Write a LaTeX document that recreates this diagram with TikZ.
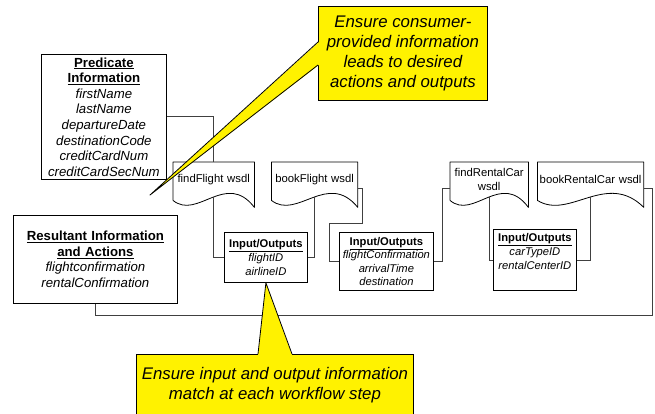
\documentclass[tikz,border=0pt]{standalone}
\usepackage{fontspec}
\setmainfont{Liberation Sans}
\usepackage{tikz}
\usetikzlibrary{%
  positioning,
  calc}
\tikzset{
  %% Information boxes (predicate / resultant)
  infobox/.style={
    rectangle, draw=black, line width=0.8pt, fill=white,
    align=center, anchor=north west, inner sep=1.5pt,
    font=\fontsize{13.2}{15.6}\selectfont},
  %% Input/Outputs boxes
  iobox/.style={
    rectangle, draw=black, line width=0.8pt, fill=white,
    align=center, anchor=north west, inner xsep=1.5pt, inner ysep=3pt,
    font=\fontsize{11.2}{13.6}\selectfont},
  %% wsdl documents with wavy bottom edge
  wsdldoc/.style={
    rectangle, anchor=north west, align=center,
    inner sep=1pt, minimum height=35pt,
    font=\fontsize{11.3}{14}\selectfont,
    append after command={\pgfextra{
      \draw[line width=0.8pt, line join=round]
        ($(\tikzlastnode.south west)+(0,3)$) -- (\tikzlastnode.north west)
        -- (\tikzlastnode.north east) -- ($(\tikzlastnode.south east)+(0,10)$)
        .. controls ($(\tikzlastnode.south west)!0.65!(\tikzlastnode.south east)+(0,-27)$)
        and ($(\tikzlastnode.south west)!0.3!(\tikzlastnode.south east)+(0,23)$)
        .. ($(\tikzlastnode.south west)+(0,3)$);}}},
  %% Yellow call-out notes
  note/.style={
    rectangle, draw=black, line width=0.8pt, fill=yellow,
    align=center, anchor=north west, inner sep=2pt,
    font=\fontsize{16.8}{19.8}\selectfont\itshape},
  %% Connectors
  link/.style={draw=black!75, line width=0.8pt},
}

\begin{document}
\begin{tikzpicture}[x=1pt, y=-1pt]
  \useasboundingbox (0,0) rectangle (655,414);

  %% Predicate and resultant information
  \node[infobox, minimum width=125pt, minimum height=125pt, text width=121pt] (pred) at (41,54)
    {\underline{\textbf{Predicate}}\\ \underline{\textbf{Information}}\\
     \textit{firstName}\\ \textit{lastName}\\ \textit{departureDate}\\
     \textit{destinationCode}\\ \textit{creditCardNum}\\ \textit{creditCardSecNum}};
  \node[infobox, minimum width=164pt, minimum height=88pt, text width=160pt] (res) at (13,215)
    {\underline{\textbf{Resultant Information}}\\ \underline{\textbf{and Actions}}\\
     \textit{flightconfirmation}\\ \textit{rentalConfirmation}};

  %% Row of wsdl documents
  \node[wsdldoc, minimum width=81pt, text width=79pt] (ff) at (173,162) {findFlight wsdl};
  \node[wsdldoc, minimum width=86pt, text width=84pt, right=17pt of ff] (bf) {bookFlight wsdl};
  \node[wsdldoc, minimum width=78pt, text width=76pt] (frc) at (450,162) {findRentalCar\\ wsdl};
  \node[wsdldoc, minimum width=106pt, text width=104pt, right=9pt of frc] (brc) {bookRentalCar wsdl};

  %% Input/Outputs between the steps
  \node[iobox, minimum width=83pt, minimum height=50pt, text width=80pt] (io1) at (224,232)
    {\underline{\textbf{Input/Outputs}}\\ \textit{flightID}\\ \textit{airlineID}};
  \node[iobox, minimum width=94pt, minimum height=58pt, text width=91pt] (io2) at (339,232)
    {\underline{\textbf{Input/Outputs}}\\ \textit{flightConfirmation}\\ \textit{arrivalTime}\\ \textit{destination}};
  \node[iobox, minimum width=83pt, minimum height=61pt, text width=80pt, text depth=44pt] (io3) at (493,229)
    {\underline{\textbf{Input/Outputs}}\\ \textit{carTypeID}\\ \textit{rentalCenterID}};

  %% Workflow connectors
  \draw[link] (pred.east) -| (ff.north);
  \draw[link] (ff.south) |- (io1.west);
  \draw[link] (bf.south) |- (io1.east);
  \draw[link] ([yshift=-8.5pt]bf.east) -- ++(5,0) -- ++(0,35) -- ++(-33,0) |- (io2.west);
  \draw[link] (io2.east) -- ++(9,0) |- ([yshift=-8.5pt]frc.west);
  \draw[link] (frc.south) |- (io3.west);
  \draw[link] (brc.south) |- (io3.east);
  \draw[link] ([yshift=-8.5pt]brc.east) -- ++(9,0) -- ++(0,127) -| (res.south);

  %% Call-outs
  \node[note, minimum width=169pt, minimum height=94pt] (note1) at (318,6)
    {Ensure consumer-\\ provided information\\ leads to desired\\ actions and outputs};
  \coordinate (tip1) at (150,195);
  \fill[yellow] ($(note1.north west)+(0.8,36)$) -- (tip1) -- ($(note1.north west)+(0.8,59)$) -- cycle;
  \draw[line width=0.8pt, line join=round] ($(note1.north west)+(0,36)$) -- (tip1) -- ($(note1.north west)+(0,59)$);

  \node[note, minimum width=277pt, minimum height=62pt] (note2) at (136,354)
    {Ensure input and output information\\ match at each workflow step};
  \fill[yellow] ($(note2.north west)+(122,0.8)$) -- (io1.south) -- ($(note2.north west)+(156,0.8)$) -- cycle;
  \draw[line width=0.8pt, line join=round] ($(note2.north west)+(122,0)$) -- (io1.south) -- ($(note2.north west)+(156,0)$);

\end{tikzpicture}
\end{document}
